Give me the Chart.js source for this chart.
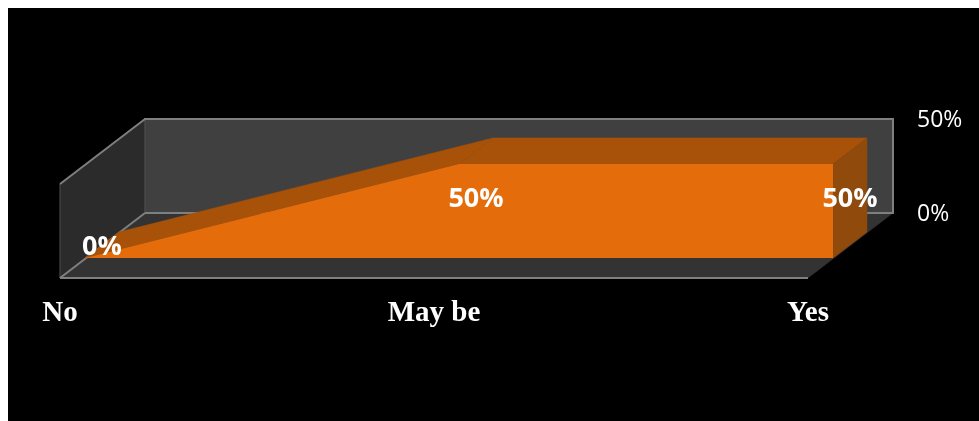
<!DOCTYPE html>
<html>
<head>
<meta charset="utf-8">
<style>
html,body{background:#fff;overflow:hidden}
body{margin:8px 0 0 8px;width:971px;height:413px}
canvas{display:block;background:#000}
</style>
<script src="https://cdn.jsdelivr.net/npm/chart.js@4"></script>
</head>
<body>
<canvas id="c" width="971" height="413"></canvas>
<script>
const categories = ['No', 'May be', 'Yes'];
const values = [0, 0.5, 0.5];
const tickValues = [0, 0.5];

const FLOOR = {x: 85, y: -65};   // full depth of the box
const FRONT = {x: 25, y: -20};   // where the area's front face sits
const SLAB = {x: 34, y: -26};    // thickness of the area
const pct = v => Math.round(v * 100) + '%';

function poly(ctx, pts, fill) {
  ctx.beginPath();
  pts.forEach((p, i) => i ? ctx.lineTo(p[0], p[1]) : ctx.moveTo(p[0], p[1]));
  ctx.closePath();
  ctx.fillStyle = fill;
  ctx.strokeStyle = fill;
  ctx.lineWidth = 0.5;
  ctx.fill();
  ctx.stroke();
}
function seg(ctx, a, b, color, w) {
  ctx.beginPath();
  ctx.moveTo(a[0], a[1]);
  ctx.lineTo(b[0], b[1]);
  ctx.strokeStyle = color;
  ctx.lineWidth = w;
  ctx.stroke();
}

const box3d = {
  id: 'box3d',
  afterLayout(chart) {
    const y = chart.scales.y;
    if (y._wrapped) return;
    y._wrapped = true;
    const orig = y.drawLabels.bind(y);
    y.drawLabels = function (area) {
      const ctx = chart.ctx;
      ctx.save();
      ctx.translate(FLOOR.x, FLOOR.y + 1);
      orig(area);
      ctx.restore();
    };
  },
  beforeDraw(chart) {
    const {ctx, scales: {x, y}} = chart;
    const l = x.left, r = x.right, b = y.getPixelForValue(0), t = y.getPixelForValue(tickValues[1]);
    const dx = FLOOR.x, dy = FLOOR.y;
    ctx.save();
    poly(ctx, [[l + dx, t + dy], [r + dx, t + dy], [r + dx, b + dy], [l + dx, b + dy]], '#404040');
    poly(ctx, [[l, t], [l + dx, t + dy], [l + dx, b + dy], [l, b]], '#2b2b2b');
    poly(ctx, [[l, b], [l + dx, b + dy], [r + dx, b + dy], [r, b]], '#333333');
    const line = '#7f7f7f';
    seg(ctx, [l, b], [l, t], '#4a4a4a', 1);
    seg(ctx, [l + dx, t + dy], [l + dx, b + dy], '#565656', 1);
    seg(ctx, [l, t], [l + dx, t + dy], line, 2);
    seg(ctx, [l + dx - 1, t + dy], [r + dx + 1, t + dy], line, 2);
    seg(ctx, [r + dx, t + dy], [r + dx, b + dy], line, 2);
    seg(ctx, [l + dx, b + dy], [r + dx + 1, b + dy], line, 2);
    seg(ctx, [l, b], [l + dx, b + dy], line, 2);
    seg(ctx, [l, b], [r, b], line, 2);
    ctx.restore();
  },
  beforeDatasetsDraw(chart) {
    const {ctx, scales: {x, y}} = chart;
    const pts = values.map((v, i) => [x.getPixelForValue(i) + FRONT.x, y.getPixelForValue(v) + FRONT.y]);
    const base = y.getPixelForValue(0) + FRONT.y;
    const last = pts[pts.length - 1];
    ctx.save();
    for (let i = 0; i < pts.length - 1; i++) {
      const a = pts[i], c = pts[i + 1];
      poly(ctx, [a, c, [c[0] + SLAB.x, c[1] + SLAB.y], [a[0] + SLAB.x, a[1] + SLAB.y]], '#A85108');
    }
    poly(ctx, [last, [last[0] + SLAB.x, last[1] + SLAB.y], [last[0] + SLAB.x, base + SLAB.y], [last[0], base]], '#8F4A0C');
    ctx.restore();
    ctx.save();
    ctx.translate(FRONT.x, FRONT.y);
  },
  afterDatasetsDraw(chart) {
    const {ctx, scales: {x, y}} = chart;
    ctx.restore();
    ctx.save();
    ctx.fillStyle = '#ffffff';
    ctx.font = 'bold 27px "Open Sans"';
    ctx.textAlign = 'center';
    ctx.textBaseline = 'middle';
    values.forEach((v, i) => {
      const px = x.getPixelForValue(i) + 42;
      const py = y.getPixelForValue(v) + (v > 0 ? 15 : -31);
      ctx.fillText(pct(v), px, py);
    });
    ctx.restore();
  }
};

new Chart(document.getElementById('c'), {
  type: 'line',
  plugins: [box3d],
  data: {
    labels: categories,
    datasets: [{
      data: values,
      fill: 'origin',
      backgroundColor: '#E46C0A',
      borderWidth: 0,
      pointRadius: 0,
      tension: 0
    }]
  },
  options: {
    responsive: false,
    animation: false,
    events: [],
    layout: {padding: {left: 52, top: 176, right: 0, bottom: 0}},
    plugins: {legend: {display: false}, tooltip: {enabled: false}, title: {display: false}},
    scales: {
      x: {
        type: 'category',
        offset: false,
        grid: {display: false},
        border: {display: false},
        afterFit(s) { s.height = 143; },
        ticks: {
          color: '#ffffff',
          autoSkip: false,
          maxRotation: 0,
          padding: 10,
          font: {family: '"Liberation Serif"', weight: 'bold', size: 29}
        }
      },
      y: {
        position: 'right',
        min: 0,
        max: tickValues[1],
        grid: {display: false},
        border: {display: false},
        afterFit(s) { s.width = 171; },
        afterBuildTicks(s) { s.ticks = tickValues.map(v => ({value: v})); },
        ticks: {
          color: '#ffffff',
          padding: 16,
          font: {family: '"Open Sans"', size: 23},
          callback: v => pct(v)
        }
      }
    }
  }
});
</script>
</body>
</html>
